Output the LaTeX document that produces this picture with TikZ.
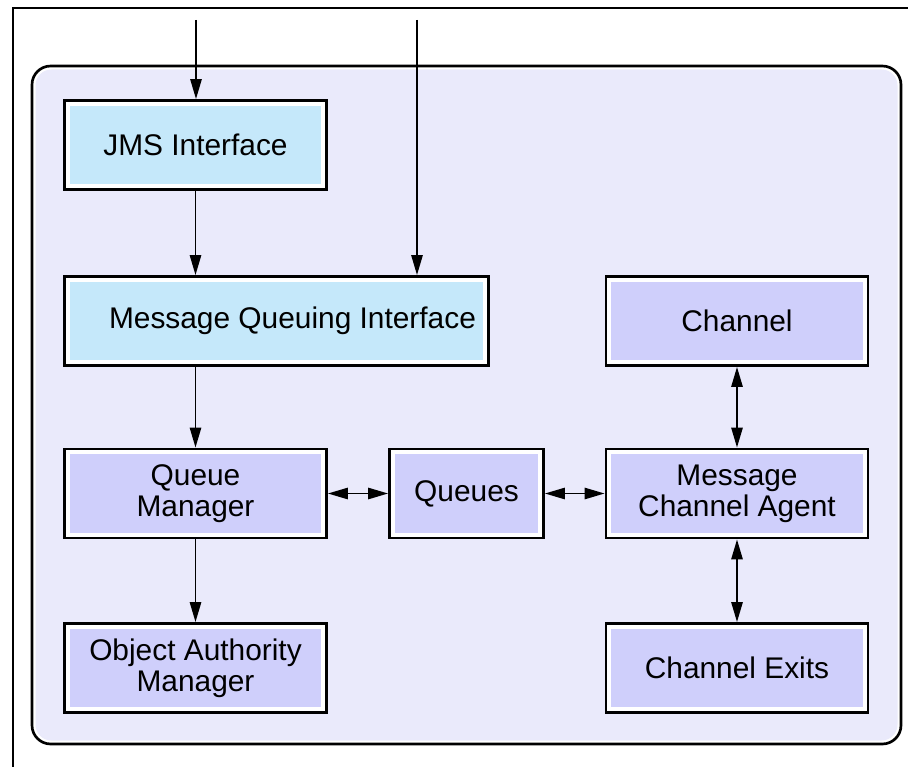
\documentclass[tikz,border=0pt]{standalone}
\usepackage{fontspec}
\setmainfont{Liberation Sans}
\usetikzlibrary{arrows.meta,positioning}
\definecolor{frameback}{HTML}{EAEAFB}
\definecolor{ifaceblue}{HTML}{C5E8FA}
\definecolor{partlilac}{HTML}{CFCFFB}
\tikzset{
  part/.style={draw=black, line width=2.2pt, fill=white, minimum width=196.5pt, minimum height=66.75pt,
    align=center, font=\fontsize{22.4}{23.5}\selectfont,
    path picture={\fill[#1] ([shift={(4pt,-4pt)}]path picture bounding box.north west)
      rectangle ([shift={(-4pt,4pt)}]path picture bounding box.south east);}},
  part/.default=partlilac,
  flow/.style={line width=1.4pt, -{Triangle[length=15pt,width=8.5pt]}},
  both/.style={line width=1.4pt, {Triangle[length=15pt,width=8.5pt]}-{Triangle[length=15pt,width=8.5pt]}}
}

\begin{document}
\begin{tikzpicture}[x=0.75pt,y=-0.75pt]
  \useasboundingbox (0,0) rectangle (908,767);
  \draw[line width=0.8pt] (908,8) -- (13,8) -- (13,767);
  \draw[line width=2pt, rounded corners=14pt, fill=white] (32,66) rectangle (901,744);
  \fill[frameback, rounded corners=12pt] (35.5,69.5) rectangle (897.5,740.5);
  \node[part=ifaceblue] (jms) at (195.5,145) {JMS Interface};
  \node[part=ifaceblue, minimum width=318pt] (mqi) at (276.5,321) {\hspace*{24pt}Message Queuing Interface};
  \node[part] (chl) at (737,321) {Channel};
  \node[part] (qmgr) at (195.5,493.5) {Queue\\Manager};
  \node[part, minimum width=115.5pt] (queues) at (466.5,493.5) {Queues};
  \node[part] (mca) at (737,493.5) {Message\\Channel Agent};
  \node[part] (oam) at (195.5,668) {Object Authority\\Manager};
  \node[part] (exits) at (737,668) {Channel Exits};
  \coordinate (inA) at (196,20);
  \coordinate (inB) at (417,20);
  \draw[flow] (inA) -- (inA |- jms.north);
  \draw[flow] (inB) -- (inB |- mqi.north);
  \draw[flow] (jms.south) -- (jms.south |- mqi.north);
  \draw[flow] (qmgr.north |- mqi.south) -- (qmgr.north);
  \draw[flow] (qmgr.south) -- (oam.north);
  \draw[both] (qmgr.east) -- (queues.west);
  \draw[both] (queues.east) -- (mca.west);
  \draw[both] (chl.south) -- (mca.north);
  \draw[both] (mca.south) -- (exits.north);
\end{tikzpicture}
\end{document}
